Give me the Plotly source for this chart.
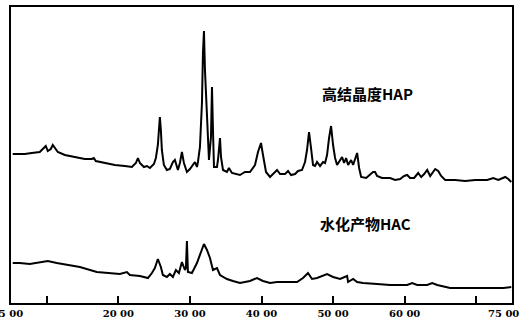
import plotly.graph_objects as go

two_theta_hap = [5.24, 6.92, 7.90, 9.02, 9.58, 9.86, 10.14, 10.56, 10.84, 11.12, 11.54, 12.52, 13.92, 15.31,
                 16.29, 16.57, 16.85, 18.11, 19.51, 20.91, 21.89, 22.45, 22.73, 23.01, 23.57, 23.99, 24.41,
                 24.97, 25.24, 25.52, 25.66, 25.80, 25.94, 26.08, 26.36, 26.78, 27.20, 27.62, 27.90, 28.18,
                 28.32, 28.60, 28.88, 29.16, 29.58, 30.00, 30.42, 30.70, 30.98, 31.12, 31.40, 31.68, 31.82,
                 31.96, 32.10, 32.24, 32.38, 32.52, 32.66, 32.94, 33.08, 33.22, 33.36, 33.78, 33.92, 34.20,
                 34.34, 34.62, 35.17, 35.45, 35.87, 36.99, 37.69, 38.39, 39.09, 39.51, 39.93, 40.21, 40.63,
                 41.19, 41.89, 42.17, 42.59, 43.29, 43.71, 44.13, 44.69, 45.10, 45.66, 46.08, 46.36, 46.64,
                 46.92, 47.20, 47.48, 47.76, 48.18, 48.60, 48.88, 49.16, 49.44, 49.72, 50.00, 50.28, 50.56,
                 50.84, 51.26, 51.54, 51.82, 52.10, 52.52, 52.80, 53.08, 53.36, 53.64, 53.92, 54.62, 55.17,
                 55.59, 55.87, 56.15, 56.85, 57.97, 58.67, 59.37, 59.93, 60.35, 60.77, 61.33, 61.89, 62.31,
                 62.73, 63.15, 63.57, 63.99, 64.27, 64.69, 65.10, 65.66, 67.06, 68.46, 69.86, 71.54, 72.38,
                 73.08, 74.06, 74.48, 74.90]
intensity_hap = [149, 149, 150, 151, 155, 157, 152, 154, 158, 155, 151, 148, 146, 144,
                 144, 145, 142, 140, 138, 137, 136, 140, 145, 140, 136, 137, 135,
                 139, 145, 158, 173, 186, 173, 153, 138, 133, 134, 141, 143, 137,
                 133, 140, 151, 140, 131, 134, 138, 141, 136, 141, 156, 200, 250,
                 272, 233, 211, 173, 166, 143, 166, 216, 173, 136, 136, 143, 165,
                 146, 133, 131, 135, 130, 128, 131, 131, 138, 151, 160, 148, 131,
                 126, 131, 133, 129, 129, 132, 128, 129, 132, 133, 141, 153, 171,
                 155, 138, 137, 141, 137, 141, 140, 148, 165, 177, 158, 145, 138,
                 141, 146, 140, 145, 138, 143, 138, 145, 150, 135, 126, 125, 128,
                 131, 131, 127, 125, 125, 123, 124, 127, 128, 125, 125, 130, 126,
                 129, 133, 127, 131, 134, 132, 127, 123, 123, 122, 123, 123, 125,
                 123, 126, 124, 121]

two_theta_hac = [5.24, 6.22, 7.62, 9.02, 10.14, 11.40, 12.24, 14.62, 16.99, 18.81, 20.21, 21.19, 21.61,
                 23.01, 24.13, 24.69, 25.10, 25.52, 25.94, 26.22, 26.78, 27.20, 27.62, 28.04, 28.46,
                 28.88, 29.30, 29.44, 29.58, 29.72, 30.28, 30.98, 31.68, 31.96, 32.38, 32.80, 33.22,
                 33.78, 34.20, 35.17, 36.01, 36.99, 38.39, 39.37, 40.21, 41.19, 42.17, 44.97, 45.80,
                 46.50, 47.06, 47.76, 49.16, 50.00, 50.98, 51.96, 52.10, 52.80, 53.36, 54.20, 56.15,
                 57.97, 60.35, 61.05, 61.75, 63.15, 63.85, 64.55, 66.36, 68.18, 70.98, 73.78, 74.90]
intensity_hac = [40, 40, 39, 41, 42, 40, 39, 36, 31, 30, 29, 31, 28,
                 27, 25, 30, 35, 44, 36, 28, 26, 29, 26, 33, 30,
                 41, 33, 35, 62, 31, 30, 40, 55, 59, 53, 45, 33,
                 35, 28, 24, 22, 20, 22, 25, 22, 20, 21, 21, 25,
                 30, 24, 25, 29, 26, 24, 27, 21, 24, 21, 20, 19,
                 18, 18, 20, 18, 18, 20, 18, 15, 15, 15, 15, 16]

tick_values = [5, 10, 20, 30, 40, 50, 60, 70, 75]
tick_labels = ["5 00", "", "20 00", "30 00", "40 00", "50 00", "60 00", "", ""]
last_tick_label = "75 00"

label_hap = "高结晶度HAP"
label_hac = "水化产物HAC"

fig = go.Figure()
fig.add_trace(go.Scatter(x=two_theta_hap, y=intensity_hap, mode="lines",
                         line=dict(color="black", width=2), showlegend=False, hoverinfo="skip"))
fig.add_trace(go.Scatter(x=two_theta_hac, y=intensity_hac, mode="lines",
                         line=dict(color="black", width=2), showlegend=False, hoverinfo="skip"))

fig.add_annotation(x=54.8, y=210, text=label_hap, showarrow=False,
                   font=dict(family="Noto Sans CJK SC", size=15, color="black", weight="bold"))
fig.add_annotation(x=54.6, y=80, text=label_hac, showarrow=False,
                   font=dict(family="Noto Sans CJK SC", size=15, color="black", weight="bold"))
fig.add_annotation(x=75, y=0, yref="y", text=last_tick_label, showarrow=False,
                   xanchor="right", yanchor="top", xshift=9, yshift=-3,
                   font=dict(family="DejaVu Serif", size=10, color="black", weight="bold"))

fig.update_layout(
    width=523, height=327,
    margin=dict(l=11, r=11, t=7, b=24),
    paper_bgcolor="white", plot_bgcolor="white",
    xaxis=dict(range=[5, 75], showgrid=False, zeroline=False, showline=True, mirror=True,
               automargin=False, ticklabeloverflow="allow",
               linecolor="black", linewidth=1.5, ticks="inside", ticklen=7, tickwidth=1.5,
               tickcolor="black", tickvals=tick_values, ticktext=tick_labels,
               tickfont=dict(family="DejaVu Serif", size=10, color="black", weight="bold")),
    yaxis=dict(range=[0, 296], showgrid=False, zeroline=False, showline=True, mirror=True,
               automargin=False,
               linecolor="black", linewidth=1.5, showticklabels=False, ticks=""),
)

fig.write_html("out.html", config={"displayModeBar": False},
               post_script="document.body.style.margin='0';")
